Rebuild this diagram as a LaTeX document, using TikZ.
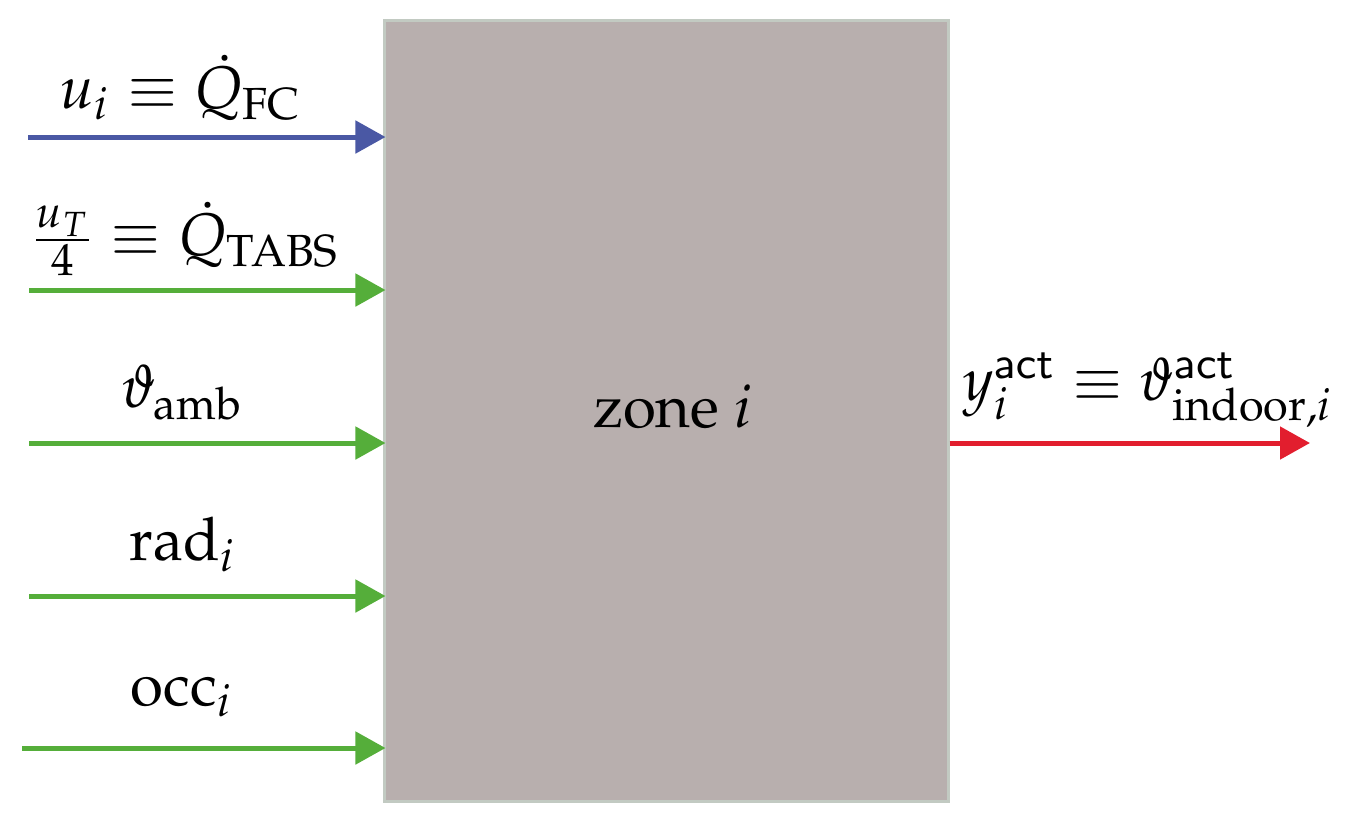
\documentclass[tikz,border=0pt]{standalone}
\usepackage[T1]{fontenc}
\usepackage{mathpazo}
\usepackage[scaled=0.92]{helvet}
\usetikzlibrary{arrows.meta}
\definecolor{zfill}{HTML}{B8AFAE}
\definecolor{zborder}{HTML}{C2CAC2}
\definecolor{ablue}{HTML}{4A58A4}
\definecolor{agreen}{HTML}{55AE3A}
\definecolor{ared}{HTML}{E21E2E}
\begin{document}
\begin{tikzpicture}[x=0.2pt,y=-0.2pt,
  every node/.style={font=\fontsize{12}{14}\selectfont},
  zonebox/.style={draw=zborder,fill=zfill,line width=0.6pt,inner sep=0pt,
    minimum width=112.6pt,minimum height=156.2pt},
  sig/.style={line width=1pt,-{Triangle[length=6pt,width=6.4pt]}},
  lbl/.style={anchor=base,inner sep=0pt}]
\useasboundingbox (0,0) rectangle (1348,819);
\node[zonebox] (zone) at (666.5,410.5) {};
\node[inner sep=0pt] (ztext) at (673,407) {zone $i$};
% input start points
\coordinate (s1) at (28,137);
\coordinate (s2) at (29,290);
\coordinate (s3) at (29,443);
\coordinate (s4) at (29,596);
\coordinate (s5) at (22,748);
\coordinate (e6) at (1310,443);
\draw[sig,ablue] (s1) -- ([xshift=0.4pt]s1 -| zone.west);
\draw[sig,agreen] (s2) -- ([xshift=0.4pt]s2 -| zone.west);
\draw[sig,agreen] (s3) -- ([xshift=0.4pt]s3 -| zone.west);
\draw[sig,agreen] (s4) -- ([xshift=0.4pt]s4 -| zone.west);
\draw[sig,agreen] (s5) -- ([xshift=0.4pt]s5 -| zone.west);
\draw[sig,ared] (e6 -| zone.east) -- (e6);
% labels
\node[lbl] (l1) at (181,108) {$u_i\equiv\dot{Q}_{\mathrm{FC}}$};
\node[lbl] (l2) at (185,255) {$\frac{u_T}{4}\equiv\dot{Q}_{\mathrm{TABS}}$};
\node[lbl] (l3) at (182,407) {$\vartheta_{\mathrm{amb}}$};
\node[lbl] (l4) at (183,560) {$\mathrm{rad}_i$};
\node[lbl] (l5) at (182,705) {$\mathrm{occ}_i$};
\node[lbl] (l6) at (1148,400) {$y_i^{\mathsf{act}}\equiv\vartheta_{\mathrm{indoor},i}^{\mathsf{act}}$};
\end{tikzpicture}
\end{document}
